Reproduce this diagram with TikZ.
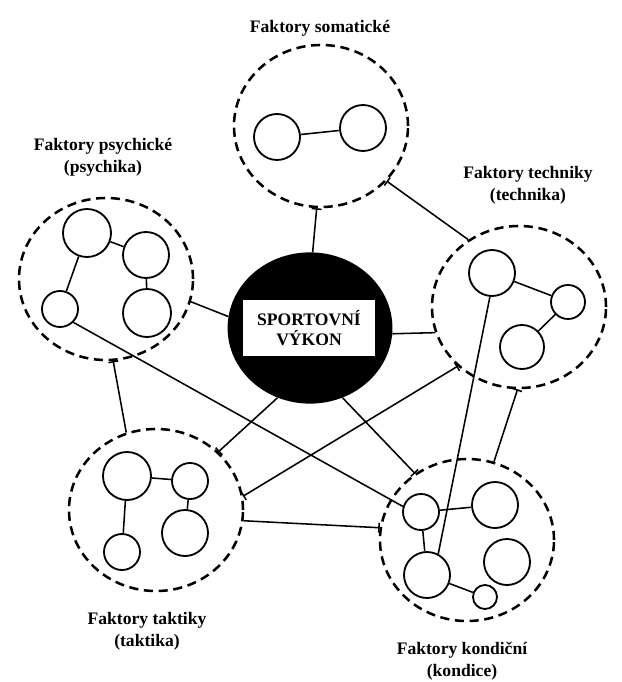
\documentclass[tikz,border=0pt]{standalone}
\usepackage{fontspec}
\setmainfont{Liberation Serif}
\usepackage{tikz}
\usetikzlibrary{shapes.geometric,arrows.meta}
\tikzset{
  factornode/.style={ellipse,draw,line width=1.8pt,
    dash pattern=on 6.5pt off 4pt,
    minimum width=4.35cm,minimum height=4.05cm,inner sep=0pt},
  corenode/.style={ellipse,fill=black,
    minimum width=4.12cm,minimum height=3.78cm,inner sep=0pt},
  corebox/.style={rectangle,fill=white,minimum width=3.32cm,
    minimum height=1.38cm,inner sep=1pt,align=center,
    font=\bfseries\fontsize{12.5}{14.5}\selectfont},
  itemnode/.style={circle,draw,line width=1.3pt,inner sep=0pt},
  labelnode/.style={align=center,inner sep=1pt,
    font=\bfseries\fontsize{12.5}{15.5}\selectfont},
  linkedge/.style={line width=1.1pt},
  tickedge/.style={linkedge,-{Bar[width=7pt]}},
  tickstart/.style={linkedge,{Bar[width=7pt]}-},
  tickboth/.style={linkedge,{Bar[width=7pt]}-{Bar[width=7pt]}}
}
\begin{document}
\begin{tikzpicture}[x=0.025cm,y=-0.025cm]
  \useasboundingbox (0,0) rectangle (622,682);

  % centre
  \node[corenode] (core) at (310,328) {};
  \node[corebox] (coretext) at (309,328) {SPORTOVNÍ\\VÝKON};

  % factor groups
  \node[factornode] (som) at (321,126) {};
  \node[factornode] (psy) at (106,279) {};
  \node[factornode] (tec) at (519,307) {};
  \node[factornode] (tak) at (156,510) {};
  \node[factornode] (kon) at (467,540) {};

  \node[labelnode] (somlabel) at (320,28) {Faktory somatické};
  \node[labelnode] (psylabel) at (103,157) {Faktory psychické\\(psychika)};
  \node[labelnode] (teclabel) at (528,185) {Faktory techniky\\(technika)};
  \node[labelnode] (taklabel) at (147,631) {Faktory taktiky\\(taktika)};
  \node[labelnode] (konlabel) at (462,661) {Faktory kondiční\\(kondice)};

  % somatic
  \node[itemnode,minimum size=1.15cm] (s1) at (277,137) {};
  \node[itemnode,minimum size=1.15cm] (s2) at (363,128) {};
  \draw[linkedge] (s1)--(s2);

  % psychic
  \node[itemnode,minimum size=1.2cm] (p1) at (87,233) {};
  \node[itemnode,minimum size=1.15cm] (p2) at (146,255) {};
  \node[itemnode,minimum size=1.2cm] (p3) at (147,313) {};
  \node[itemnode,minimum size=0.9cm] (p4) at (60,309) {};
  \draw[linkedge] (p1)--(p2) (p2)--(p3) (p1)--(p4);

  % technique
  \node[itemnode,minimum size=1.15cm] (t1) at (492,273) {};
  \node[itemnode,minimum size=0.85cm] (t2) at (568,302) {};
  \node[itemnode,minimum size=1.1cm] (t3) at (522,347) {};
  \draw[linkedge] (t1)--(t2) (t2)--(t3);

  % tactics
  \node[itemnode,minimum size=1.2cm] (k1) at (127,476) {};
  \node[itemnode,minimum size=0.9cm] (k2) at (190,481) {};
  \node[itemnode,minimum size=1.15cm] (k3) at (185,533) {};
  \node[itemnode,minimum size=0.9cm] (k4) at (122,552) {};
  \draw[linkedge] (k1)--(k2) (k2)--(k3) (k1)--(k4);

  % condition
  \node[itemnode,minimum size=0.9cm] (c1) at (421,512) {};
  \node[itemnode,minimum size=1.15cm] (c2) at (495,505) {};
  \node[itemnode,minimum size=1.15cm] (c3) at (507,562) {};
  \node[itemnode,minimum size=1.15cm] (c4) at (427,575) {};
  \node[itemnode,minimum size=0.6cm] (c5) at (485,597) {};
  \draw[linkedge] (c1)--(c2) (c1)--(c4) (c4)--(c5);

  % links between groups
  \draw[tickedge] (core.88)--(som.267);
  \draw[tickstart] (som.320)--(tec.127);
  \draw[linkedge] (psy.345)--(core.172);
  \draw[linkedge] (core.356)--(tec.197);
  \draw[tickstart] (psy.275)--(tak.111);
  \draw[linkedge] (p4.315)--(c1.163);
  \draw[tickedge] (core.245)--(tak.43);
  \draw[tickboth] (tec.224)--(tak.9);
  \draw[tickedge] (tak.353)--(kon.172);
  \draw[tickedge] (core.295)--(kon.128);
  \draw[tickstart] (tec.269)--(kon.71);
  \draw[linkedge] (t1.265)--(c4.62);
\end{tikzpicture}
\end{document}
